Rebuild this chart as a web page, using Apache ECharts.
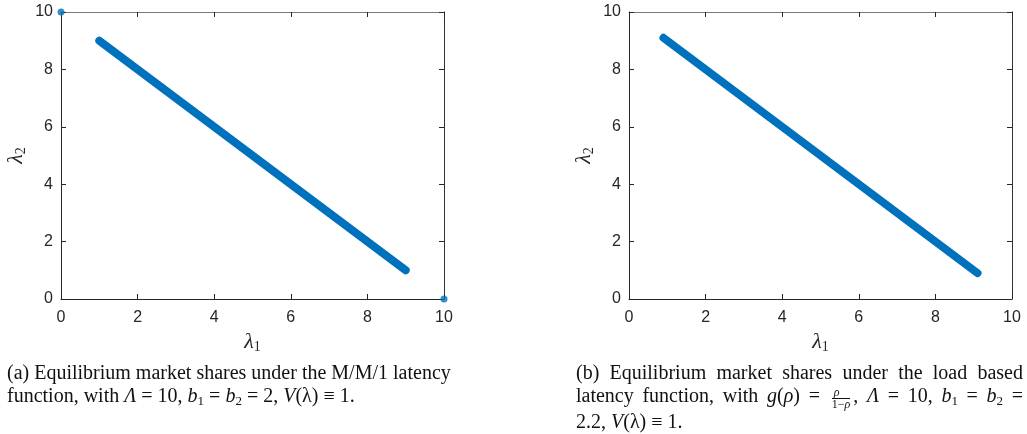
<!DOCTYPE html>
<html>
<head>
<meta charset="utf-8">
<script src="https://cdn.jsdelivr.net/npm/echarts@6/dist/echarts.min.js"></script>
<style>
  html, body { margin: 0; padding: 0; background: #fff; }
  #wrap { position: relative; width: 1027px; height: 434px; overflow: hidden; }
  #main { position: absolute; left: 0; top: 0; width: 1027px; height: 434px; }
  .cap { position: absolute; font-family: 'Liberation Serif', 'DejaVu Serif', serif; font-size: 20px; line-height: 23px; color: #111; }
  .cap div { white-space: nowrap; }
  .cap .j { text-align: justify; text-align-last: justify; }
  .cap i { font-style: italic; }
  .cap sub { font-size: 13px; vertical-align: -3px; line-height: 0; }
  .frac { display: inline-block; vertical-align: -6px; text-align: center; font-size: 12px; line-height: 11px; margin: 0 3px; }
  .frac span { display: block; }
  .frac .num { border-bottom: 1px solid #111; padding: 0 2px; }
  #capA { left: 7px; top: 361px; width: 470px; }
  #capB { left: 576px; top: 361px; width: 447px; }
</style>
</head>
<body>
<div id="wrap">
  <div id="main"></div>
  <div class="cap" id="capA">
    <div>(a) Equilibrium market shares under the M/M/1 latency</div>
    <div>function, with <i>&Lambda;</i> = 10, <i>b</i><sub>1</sub> = <i>b</i><sub>2</sub> = 2, <i>V</i>(&lambda;) &equiv; 1.</div>
  </div>
  <div class="cap" id="capB">
    <div class="j">(b) Equilibrium market shares under the load based</div>
    <div class="j">latency function, with <i>g</i>(<i>&rho;</i>) = <span class="frac"><span class="num"><i>&rho;</i></span><span>1&minus;<i>&rho;</i></span></span>, <i>&Lambda;</i> = 10, <i>b</i><sub>1</sub> = <i>b</i><sub>2</sub> =</div>
    <div>2.2, <i>V</i>(&lambda;) &equiv; 1.</div>
  </div>
</div>
<script>
// (a) M/M/1 latency: equilibrium segment plus the two corner equilibria
var lineA = [[1, 9], [9, 1]];
var cornersA = [[0, 10], [10, 0]];
// (b) load based latency
var lineB = [[0.9, 9.1], [9.1, 0.9]];

var axisMin = 0, axisMax = 10, axisStep = 2;
var blue = '#0072BD';

var myChart = echarts.init(document.getElementById('main'));

function nameRich() {
    return {
        l: { fontFamily: 'Liberation Serif', fontStyle: 'italic', fontSize: 22, color: '#262626' },
        s: { fontFamily: 'Liberation Serif', fontSize: 14, color: '#262626', padding: [10, 0, 0, 0] }
    };
}

function mainX(idx, name) {
    return {
        type: 'value', gridIndex: idx, position: 'bottom',
        min: axisMin, max: axisMax, interval: axisStep,
        name: name, nameLocation: 'middle', nameGap: 30,
        nameTextStyle: { rich: nameRich() },
        axisLine: { lineStyle: { color: '#262626', width: 1 } },
        axisTick: { inside: true, length: 5, lineStyle: { color: '#262626' } },
        axisLabel: { fontFamily: 'Liberation Sans', fontSize: 16, color: '#262626', margin: 11 },
        splitLine: { show: false }
    };
}
function topX(idx) {
    return {
        type: 'value', gridIndex: idx, position: 'top',
        min: axisMin, max: axisMax, interval: axisStep,
        axisLine: { onZero: false, lineStyle: { color: '#7a7a7a', width: 1 } },
        axisTick: { inside: true, length: 5, lineStyle: { color: '#262626' } },
        axisLabel: { show: false }, splitLine: { show: false }
    };
}
function mainY(idx, name) {
    return {
        type: 'value', gridIndex: idx, position: 'left',
        min: axisMin, max: axisMax, interval: axisStep,
        name: name, nameLocation: 'middle', nameGap: 33,
        nameTextStyle: { rich: nameRich() },
        axisLine: { lineStyle: { color: '#262626', width: 1 } },
        axisTick: { inside: true, length: 5, lineStyle: { color: '#262626' } },
        axisLabel: { fontFamily: 'Liberation Sans', fontSize: 16, color: '#262626', margin: 8 },
        splitLine: { show: false }
    };
}
function rightY(idx) {
    return {
        type: 'value', gridIndex: idx, position: 'right',
        min: axisMin, max: axisMax, interval: axisStep,
        axisLine: { show: true, onZero: false, lineStyle: { color: '#333', width: 1 } },
        axisTick: { show: true, inside: true, length: 5, lineStyle: { color: '#262626' } },
        axisLabel: { show: false }, splitLine: { show: false }
    };
}

var option = {
    animation: false,
    grid: [
        { left: 61, top: 12, width: 383, height: 287 },
        { left: 629, top: 12, width: 383, height: 287 }
    ],
    xAxis: [mainX(0, '{l|λ}{s|1}'), topX(0), mainX(1, '{l|λ}{s|1}'), topX(1)],
    yAxis: [mainY(0, '{l|λ}{s|2}'), rightY(0), mainY(1, '{l|λ}{s|2}'), rightY(1)],
    series: [
        {
            type: 'line', xAxisIndex: 0, yAxisIndex: 0, data: lineA,
            symbol: 'none', lineStyle: { color: blue, width: 8, cap: 'round' }
        },
        {
            type: 'scatter', xAxisIndex: 0, yAxisIndex: 0, data: cornersA,
            symbolSize: 7, clip: false, itemStyle: { color: blue }
        },
        {
            type: 'line', xAxisIndex: 2, yAxisIndex: 2, data: lineB,
            symbol: 'none', lineStyle: { color: blue, width: 8, cap: 'round' }
        }
    ]
};

option && myChart.setOption(option);
</script>
</body>
</html>
